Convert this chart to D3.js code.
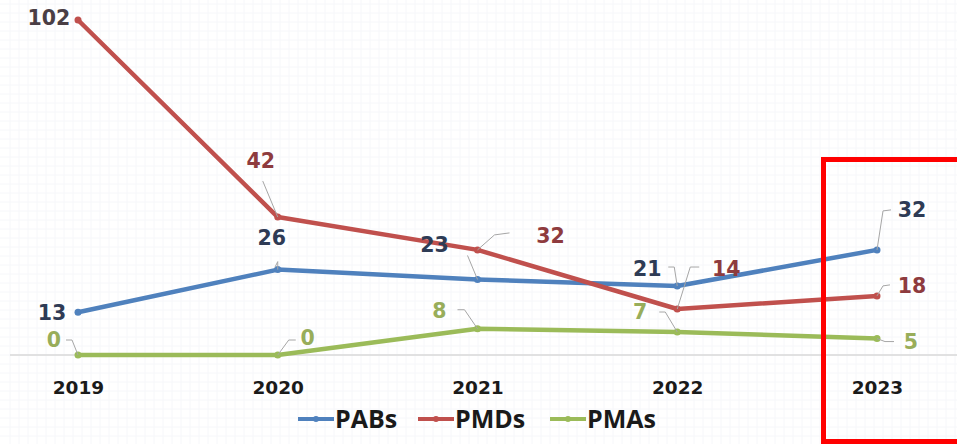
<!DOCTYPE html>
<html><head><meta charset="utf-8">
<script src="https://cdn.jsdelivr.net/npm/d3@7"></script>
<style>html,body{margin:0;padding:0;background:#fff;overflow:hidden}</style>
</head><body><svg id="c" width="957" height="444"></svg>
<script>
const years = ["2019","2020","2021","2022","2023"];
const seriesNames = ["PABs","PMDs","PMAs"];
const pabs = [13,26,23,21,32];
const pmds = [102,42,32,14,18];
const pmas = [0,0,8,7,5];

const colors = {PABs:"#4f81bd", PMDs:"#c0504d", PMAs:"#9bbb59"};
const labelColors = {PABs:"#2e3b55", PMDs:"#8e3b3e", PMAs:"#98ad5a"};
// label offsets (dx, dy of text centre from point) and leader elbows (relative)
const labelLayout = {
  PABs: [[-26,0,null],[-6,-32,[[0,-8],[-3,-2]]],[-43,-35,[[-10,-24]]],[-30,-17,[[-3,-19],[-9,-19]]],[35,-40,[[6,-39],[14,-40]]]],
  PMDs: [[-29,-2,null],[-17,-56,[[-15,-36]]],[73,-14,[[17,-15],[32,-17]]],[49,-40,[[13,-42],[22,-42]]],[35,-10,[[6,-10],[13,-11]]]],
  PMAs: [[-24,-15,[[-6,-15],[-12,-15]]],[30,-17,[[11,-15],[18,-15]]],[-38,-18,[[-13,-19],[-20,-19]]],[-37,-20,[[-12,-20],[-18,-20]]],[34,3,[[8,3],[17,3]]]]
};

const svg = d3.select("#c");
// faint background grid
const g0 = svg.append("g");
for (let x = 10; x < 957; x += 9) g0.append("line").attr("x1",x).attr("x2",x).attr("y1",0).attr("y2",444).attr("stroke","#f6f7fa").attr("stroke-width",1);
for (let y = 4; y < 444; y += 9) g0.append("line").attr("x1",0).attr("x2",957).attr("y1",y).attr("y2",y).attr("stroke","#f6f7fa").attr("stroke-width",1);

const x = d3.scalePoint().domain(years).range([78, 877]);
const y = d3.scaleLinear().domain([0, 102]).range([355, 20]);

// baseline (category axis)
svg.append("line").attr("x1",10).attr("x2",957).attr("y1",y(0)).attr("y2",y(0))
  .attr("stroke","#d9d9d9").attr("stroke-width",1.5);

const xAxis = d3.axisBottom(x).tickSize(0).tickPadding(0);
const ax = svg.append("g").attr("transform",`translate(0,${y(0)+39})`).call(xAxis);
ax.select(".domain").remove();
ax.selectAll("text").attr("font-family","'DejaVu Sans',sans-serif").attr("font-weight","bold")
  .attr("font-size","18.5px").attr("fill","#1a1a1a").attr("dy","0");

const data = {PABs:pabs, PMDs:pmds, PMAs:pmas};
const line = d3.line().x((d,i)=>x(years[i])).y(d=>y(d));

// draw order: PMAs, PABs, PMDs
["PMAs","PABs","PMDs"].forEach(name=>{
  const vals = data[name];
  svg.append("path").datum(vals).attr("d",line).attr("fill","none")
    .attr("stroke",colors[name]).attr("stroke-width",4.5).attr("stroke-linejoin","round");
  svg.selectAll(null).data(vals).enter().append("circle")
    .attr("cx",(d,i)=>x(years[i])).attr("cy",d=>y(d)).attr("r",3.5).attr("fill",colors[name]);
});

// leaders & labels
seriesNames.forEach(name=>{
  const vals = data[name];
  vals.forEach((v,i)=>{
    const px = x(years[i]), py = y(v);
    const [dx,dy,leader] = labelLayout[name][i];
    if (leader) {
      const pts = [[px,py]].concat(leader.map(p=>[px+p[0],py+p[1]]));
      svg.append("path").attr("d",d3.line()(pts)).attr("fill","none")
        .attr("stroke","#a6a6a6").attr("stroke-width",1);
    }
    svg.append("text").attr("x",px+dx).attr("y",py+dy).attr("dy","0.36em")
      .attr("text-anchor","middle").attr("font-family","'DejaVu Sans',sans-serif")
      .attr("font-weight","bold").attr("font-size","20.5px")
      .attr("fill", (name==="PMDs" && i===0) ? "#4b3f45" : labelColors[name]).text(v);
  });
});

// legend
const legX = [298, 418, 550];
const lg = svg.append("g");
seriesNames.forEach((name,i)=>{
  const lx = legX[i], ly = 419;
  lg.append("line").attr("x1",lx).attr("x2",lx+36).attr("y1",ly).attr("y2",ly)
    .attr("stroke",colors[name]).attr("stroke-width",4);
  lg.append("circle").attr("cx",lx+18).attr("cy",ly).attr("r",3).attr("fill",colors[name]);
  lg.append("text").attr("x",lx+37).attr("y",ly).attr("dy","0.36em")
    .attr("font-family","'Open Sans',sans-serif").attr("font-weight","bold").attr("font-size","25px")
    .attr("fill","#1a1a1a").text(name);
});

// red highlight box
svg.append("path").attr("d","M962,159.5 L823.5,159.5 L823.5,441.5 L962,441.5")
  .attr("fill","none").attr("stroke","#ff0000").attr("stroke-width",5);
</script></body></html>
